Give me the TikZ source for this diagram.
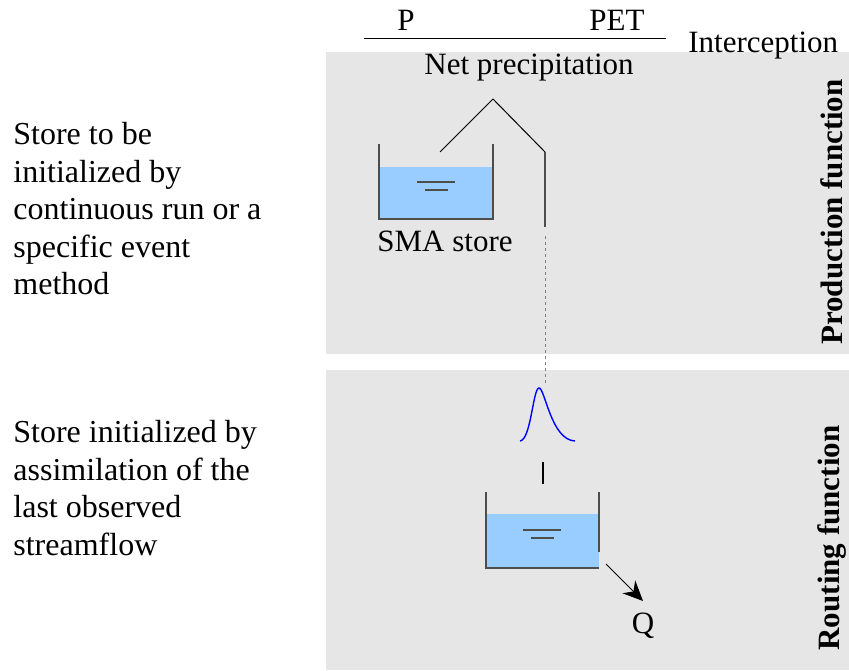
\documentclass[tikz,border=0pt]{standalone}
\usepackage{fontspec}
\setmainfont{Liberation Serif}
\usetikzlibrary{arrows.meta}

\definecolor{panelgray}{HTML}{E6E6E6}
\definecolor{watercol}{HTML}{99CCFF}
\definecolor{wallcol}{HTML}{4D4D4D}

\tikzset{
    txt/.style={font=\fontsize{15.5}{18.5}\selectfont, inner sep=0pt},
    note/.style={font=\fontsize{16}{18.75}\selectfont, inner sep=0pt, anchor=north west, align=left},
    side/.style={font=\fontsize{15.5}{18.5}\selectfont\bfseries, inner sep=0pt, rotate=90},
    wall/.style={wallcol, line width=0.75pt},
    level/.style={wallcol, line width=0.6pt},
}

\begin{document}
\begin{tikzpicture}[x=0.5pt,y=-0.5pt,>=Stealth]
    \useasboundingbox (0,0) rectangle (849,670);

    % === Panels ===
    \fill[panelgray] (326,52) rectangle (849,354);
    \fill[panelgray] (326,370) rectangle (849,670);
    \node[side] (prod) at (832,212) {Production function};
    \node[side] (rout) at (832,538) {Routing function};

    % === Inputs ===
    \node[txt] (P) at (406,20) {P};
    \node[txt] (PET) at (617,20) {PET};
    \coordinate (barL) at (364,38);
    \coordinate (barR) at (666,38);
    \draw[line width=0.5pt] (barL) -- (barR);
    \node[txt,anchor=base west] (icpt) at (688,52) {Interception};
    \node[txt] (netp) at (529,68) {Net precipitation};

    % === Left notes ===
    \node[note] (noteA) at (13,122)
        {Store to be\\initialized by\\continuous run or a\\specific event\\method};
    \node[note] (noteB) at (13,420)
        {Store initialized by\\assimilation of the\\last observed\\streamflow};

    % === SMA store ===
    \fill[watercol] (379,167) rectangle (493,219);
    \draw[wall] (379,144) -- (379,219) -- (493,219) -- (493,144);
    \draw[level] (417,182) -- (455,182) (425,190) -- (448,190);
    \node[txt] (sma) at (445,241) {SMA store};

    % Split of net precipitation
    \coordinate (npL) at (440,152);
    \coordinate (npTop) at (493,99);
    \coordinate (npR) at (545,152);
    \coordinate (npEnd) at (545,227);
    \draw[line width=0.5pt] (npL) -- (npTop) -- (npR);
    \draw[wall] (npR) -- (npEnd);
    \coordinate (uhTop) at (545,236);
    \coordinate (uhBot) at (545,384);
    \draw[gray,line width=0.5pt,dash pattern=on 1.5pt off 1.5pt] (uhTop) -- (uhBot);

    % Unit hydrograph
    \draw[blue,line width=0.7pt] (520,441) .. controls (531,440) and (533,388) .. (539,388)
        .. controls (545,388) and (551,440) .. (575,441);
    \draw[line width=0.6pt] (543,462) -- (543,484);

    % === Routing store ===
    \fill[watercol] (486,514) rectangle (599,568);
    \draw[wall] (486,492) -- (486,568) -- (599,568);
    \draw[wall] (599,492) -- (599,552);
    \draw[level] (523,530) -- (561,530) (531,538) -- (554,538);

    \coordinate (outlet) at (606,564);
    \coordinate (outTip) at (643,601);
    \node[txt] (Q) at (643,626) {Q};
    \draw[line width=0.5pt,-{Stealth[length=10pt,width=9pt]}] (outlet) -- (outTip);
\end{tikzpicture}
\end{document}
